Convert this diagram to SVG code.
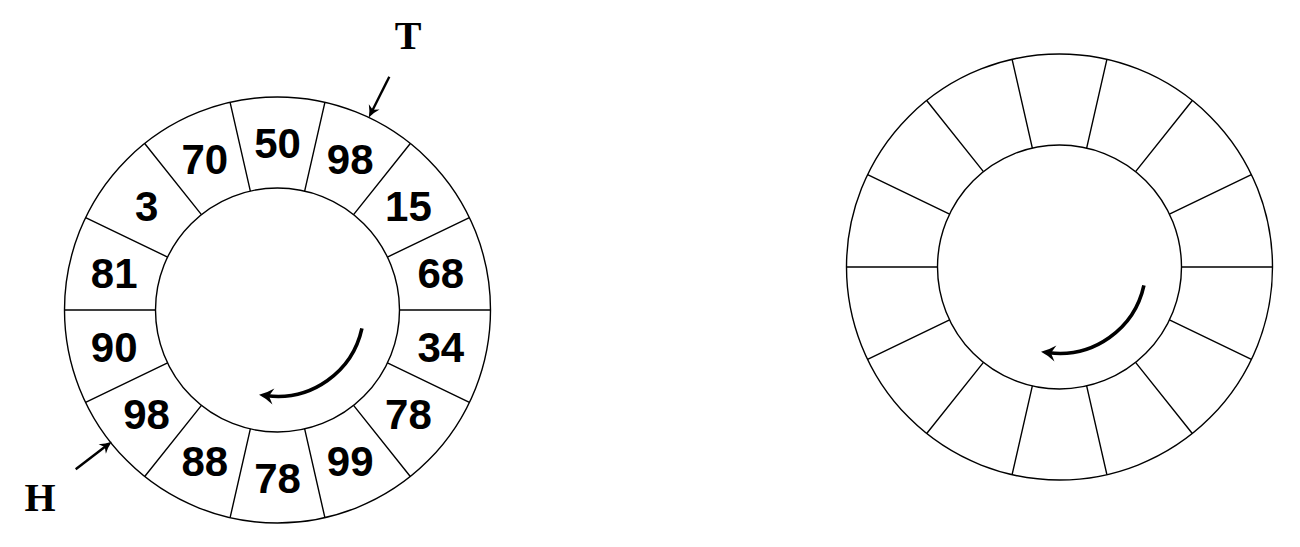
<svg xmlns="http://www.w3.org/2000/svg" xmlns:xlink="http://www.w3.org/1999/xlink" width="1300" height="547" viewBox="0 0 1300 547">
<style>
.ln{fill:none;stroke:#000;stroke-width:1.4}
.num{font-family:"Liberation Sans",Arial,sans-serif;font-weight:bold;font-size:42px;text-anchor:middle;fill:#000}
.ptr{font-family:"Liberation Serif","Times New Roman",serif;font-weight:bold;font-size:40px;text-anchor:middle;fill:#000}
.rot{fill:none;stroke:#000;stroke-width:3.6;marker-end:url(#bigHead)}
.pt{fill:none;stroke:#000;stroke-width:2.4;marker-end:url(#smallHead)}
</style>
<defs>
<marker id="bigHead" markerUnits="userSpaceOnUse" markerWidth="18" markerHeight="17" refX="8" refY="8.5" orient="auto" overflow="visible">
<path d="M16,8.5 Q8,5.5 1.5,0.5 L6,8.5 L1.5,16.5 Q8,11.5 16,8.5 Z" fill="#000"/>
</marker>
<marker id="smallHead" markerUnits="userSpaceOnUse" markerWidth="12" markerHeight="12" refX="6" refY="6" orient="auto" overflow="visible">
<path d="M12,6 Q5.5,4 0,0 L3.2,6 L0,12 Q5.5,8 12,6 Z" fill="#000"/>
</marker>
<g id="ring">
<circle class="ln" r="213"/>
<circle class="ln" r="122"/>
<path class="ln" d="M122,0L213,0 M109.918,52.934L191.906,92.417 M76.066,95.383L132.803,166.530 M27.148,118.941L47.397,207.660 M-27.148,118.941L-47.397,207.660 M-76.066,95.383L-132.803,166.530 M-109.918,52.934L-191.906,92.417 M-122,0L-213,0 M-109.918,-52.934L-191.906,-92.417 M-76.066,-95.383L-132.803,-166.530 M-27.148,-118.941L-47.397,-207.660 M27.148,-118.941L47.397,-207.660 M76.066,-95.383L132.803,-166.530 M109.918,-52.934L191.906,-92.417"/>
</g>
</defs>
<rect width="1300" height="547" fill="#fff"/>
<g id="ring-filled" transform="translate(277.5,310)">
<use href="#ring" xlink:href="#ring"/>
<text class="num" x="0" y="-152.5">50</text>
<text class="num" x="72.676" y="-135.9">98</text>
<text class="num" x="130.957" y="-89.4">15</text>
<text class="num" x="163.3" y="-22.3">68</text>
<text class="num" x="163.3" y="52.3">34</text>
<text class="num" x="130.957" y="119.4">78</text>
<text class="num" x="72.676" y="165.9">99</text>
<text class="num" x="0" y="182.5">78</text>
<text class="num" x="-72.676" y="165.9">88</text>
<text class="num" x="-130.957" y="119.4">98</text>
<text class="num" x="-163.3" y="52.3">90</text>
<text class="num" x="-163.3" y="-22.3">81</text>
<text class="num" x="-130.957" y="-89.4">3</text>
<text class="num" x="-72.676" y="-135.9">70</text>
</g>
<g id="ring-empty" transform="translate(1059.5,267)">
<use href="#ring" xlink:href="#ring"/>
</g>
<g id="label-T"><text class="ptr" x="408" y="49">T</text></g>
<g id="label-H"><text class="ptr" x="40" y="511">H</text></g>
<g id="connectors">
<path class="rot" d="M361.92,328.41 A86.4,86.4 0 0 1 266.97,395.76"/>
<path class="rot" d="M1143.92,285.41 A86.4,86.4 0 0 1 1048.97,352.76"/>
<path class="pt" d="M389.3,76.7 L371.5,112.2"/>
<path class="pt" d="M75.7,469.3 L107,445.3"/>
</g>
</svg>
